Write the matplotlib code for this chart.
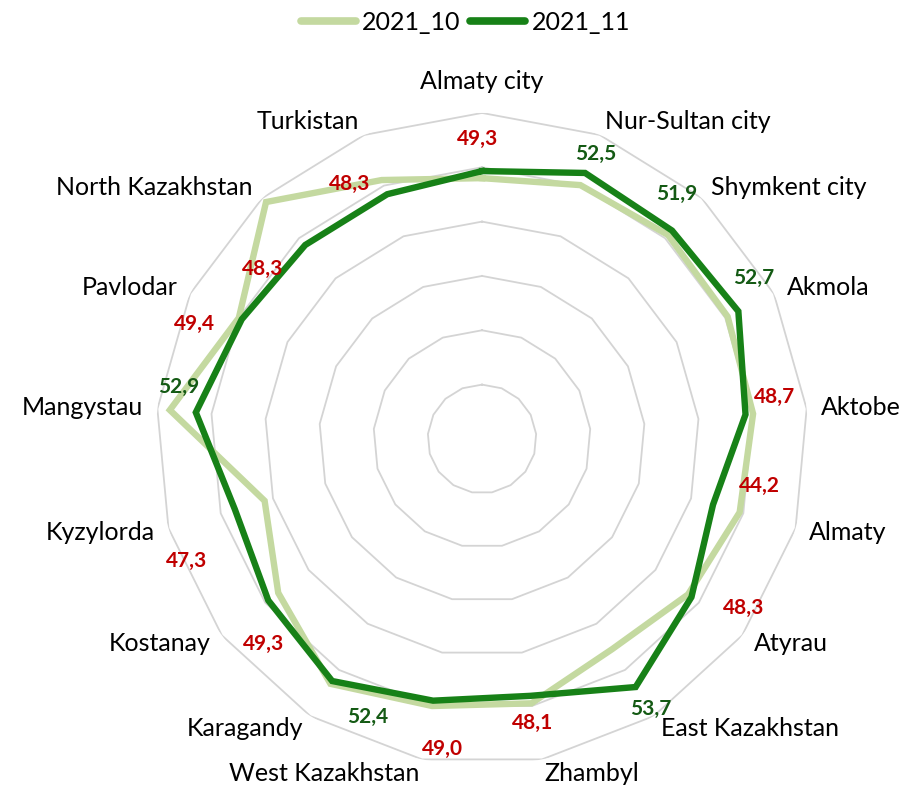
import numpy as np
import matplotlib
matplotlib.use("Agg")
import matplotlib.pyplot as plt
from matplotlib.lines import Line2D

plt.rcParams["font.family"] = ["Lato", "DejaVu Sans"]

# Regions, clockwise from the top
regions = [
    "Almaty city", "Nur-Sultan city", "Shymkent city", "Akmola", "Aktobe",
    "Almaty", "Atyrau", "East Kazakhstan", "Zhambyl", "West Kazakhstan",
    "Karagandy", "Kostanay", "Kyzylorda", "Mangystau", "Pavlodar",
    "North Kazakhstan", "Turkistan",
]
oct_2021 = [48.0, 50.1, 50.8, 50.5, 50.1, 49.3, 47.5, 45.5, 49.5, 50.0,
            53.0, 47.0, 41.6, 57.7, 50.0, 59.0, 51.1]
nov_2021 = [49.3, 52.5, 51.9, 52.7, 48.7, 44.2, 48.3, 53.7, 48.1, 49.0,
            52.4, 49.3, 47.3, 52.9, 49.4, 48.3, 48.3]
grid_levels = [10, 20, 30, 40, 50, 60]
threshold = 50

# label offsets in pixels from the 2021_11 point
label_offsets = [(-4, 32), (11, 19), (5, 37), (15, 33), (29, 18), (46, 19),
                 (52, -11), (15, -22), (3, -27), (9, -48), (36, -36),
                 (-5, -44), (-48, -52), (-17, 25), (-47, -5), (-43, -24),
                 (-38, 10)]

LIGHT = "#c4d9a0"
DARK = "#178117"
RED = "#c00000"
DARK_LABEL = "#145a14"

n = len(regions)
theta = np.linspace(0, 2 * np.pi, n, endpoint=False)
theta_c = np.append(theta, theta[0])

fig = plt.figure(figsize=(9.07, 7.87), dpi=100)
ax = fig.add_axes([0.172, 0.028, 0.7189, 0.8285], projection="polar")
ax.set_theta_zero_location("N")
ax.set_theta_direction(-1)
ax.set_ylim(0, 60)
ax.grid(False)
ax.spines["polar"].set_visible(False)
ax.set_xticks([])
ax.set_yticks([])

# polygon gridlines
for lv in grid_levels:
    ax.plot(theta_c, [lv] * (n + 1), color="#d4d4d4", lw=1.3, zorder=1)

ax.plot(theta_c, oct_2021 + oct_2021[:1], color=LIGHT, lw=4.6,
        solid_joinstyle="miter", zorder=2)
ax.plot(theta_c, nov_2021 + nov_2021[:1], color=DARK, lw=4.6,
        solid_joinstyle="miter", zorder=3)

# value labels
for t, v, off in zip(theta, nov_2021, label_offsets):
    col = DARK_LABEL if v >= threshold else RED
    ax.annotate(f"{v:.1f}".replace(".", ","), xy=(t, v), xytext=off,
                textcoords="offset pixels", ha="center", va="center",
                fontsize=15, fontweight="bold", color=col, zorder=5)

# category labels
for i, (t, name) in enumerate(zip(theta, regions)):
    s = np.sin(t)
    if abs(s) < 0.01:
        ha, r = "center", 65.7
    else:
        ha, r = ("left" if s > 0 else "right"), 62.6
    ax.text(t, r, name, ha=ha, va="center", fontsize=18, color="black")

handles = [
    Line2D([], [], color=LIGHT, lw=5.5, solid_capstyle="round"),
    Line2D([], [], color=DARK, lw=5.5, solid_capstyle="round"),
]
fig.legend(handles, ["2021_10", "2021_11"], loc="center",
           bbox_to_anchor=(0.513, 0.972), ncol=2, frameon=False,
           fontsize=18, handlelength=2.2, handletextpad=0.25,
           columnspacing=0.4)

fig.savefig("out.png", dpi=100)
